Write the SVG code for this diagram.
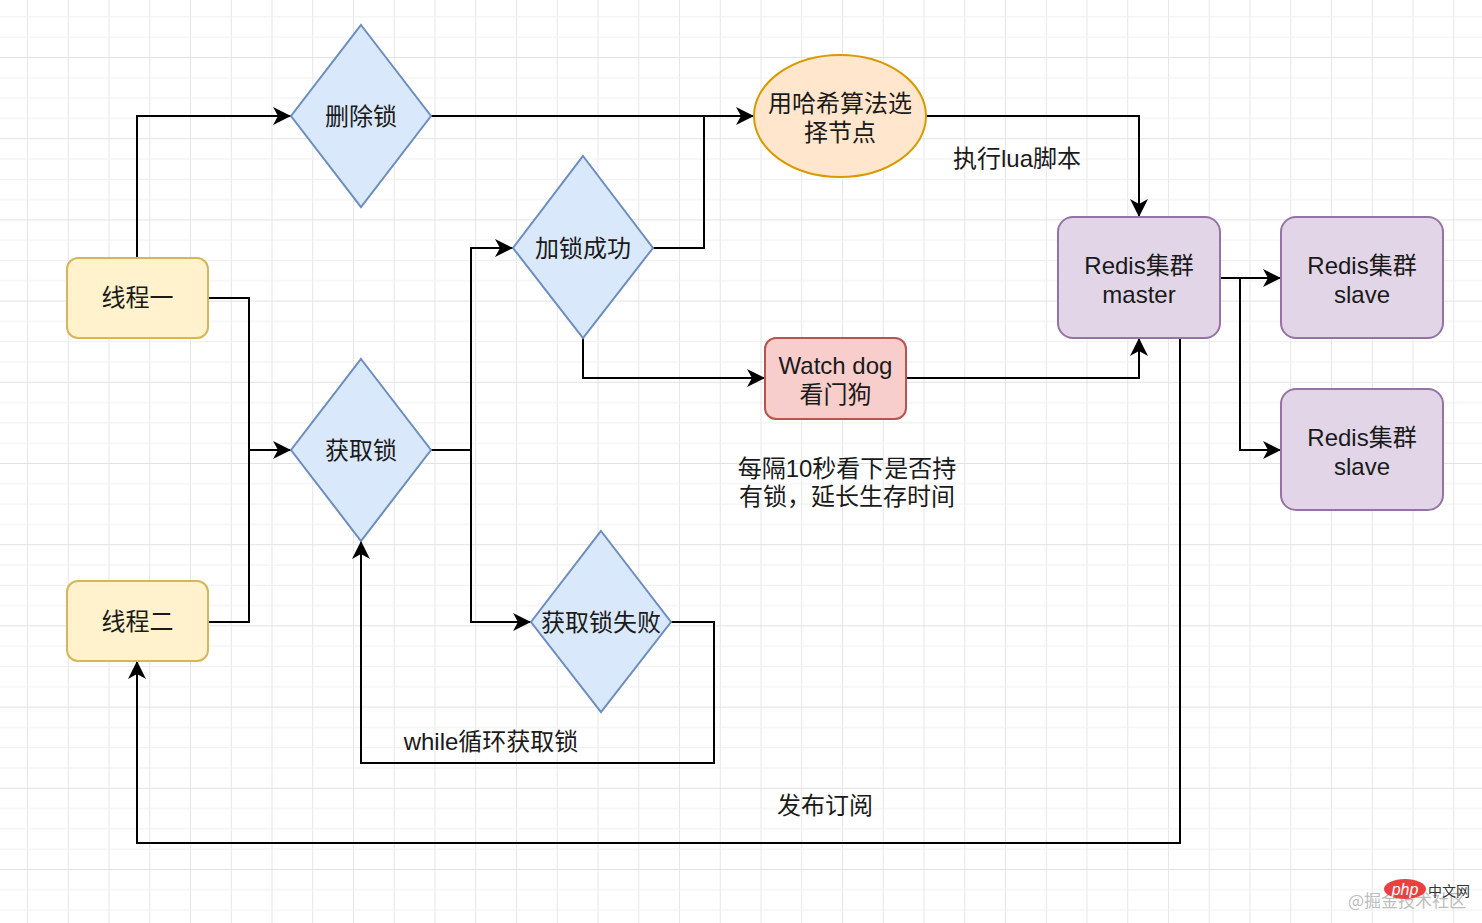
<svg xmlns="http://www.w3.org/2000/svg" width="1482" height="923" viewBox="0 0 1482 923">
<defs>
<pattern id="grid" patternUnits="userSpaceOnUse" x="27" y="-24.2" width="40.75" height="81.2">
<line x1="0.5" y1="0" x2="0.5" y2="81.2" stroke="#e6e6e6" stroke-width="1"/>
<line x1="0" y1="0.5" x2="40.75" y2="0.5" stroke="#e2e2e2" stroke-width="1"/>
<line x1="0" y1="20.8" x2="40.75" y2="20.8" stroke="#efefef" stroke-width="1"/>
<line x1="0" y1="41.1" x2="40.75" y2="41.1" stroke="#efefef" stroke-width="1"/>
<line x1="0" y1="61.4" x2="40.75" y2="61.4" stroke="#efefef" stroke-width="1"/>
</pattern>
<marker id="arr" viewBox="0 0 18 18" refX="18" refY="9" markerWidth="18" markerHeight="18" markerUnits="userSpaceOnUse" orient="auto">
<path d="M0,0 L18,9 L0,18 L5,9 Z" fill="#000"/>
</marker>
</defs>
<style>
.t{font-family:"Liberation Sans","Noto Sans CJK SC",sans-serif;font-size:24px;fill:#1a1a1a;text-anchor:middle}
.yel{fill:#fff2cc;stroke:#d6b656;stroke-width:2}
.blu{fill:#dae8fc;stroke:#6c8ebf;stroke-width:2}
.org{fill:#ffe6cc;stroke:#d79b00;stroke-width:2}
.red{fill:#f8cecc;stroke:#b85450;stroke-width:2}
.pur{fill:#e1d5e7;stroke:#9673a6;stroke-width:2}
.c{fill:none;stroke:#000;stroke-width:2}
.a{marker-end:url(#arr)}
</style>
<rect width="1482" height="923" fill="#ffffff"/>
<rect width="1482" height="923" fill="url(#grid)"/>

<g id="connectors">
<path class="c a" d="M137,258 V116 H291"/>
<path class="c a" d="M208,298 H249 V450 H291"/>
<path class="c" d="M208,622 H249 V450"/>
<path class="c a" d="M431,116 H754"/>
<path class="c" d="M653,248 H704 V116"/>
<path class="c a" d="M431,450 H471 V248 H513"/>
<path class="c a" d="M471,450 V622 H531"/>
<path class="c a" d="M583,338 V378 H765"/>
<path class="c a" d="M906,378 H1139 V338"/>
<path class="c a" d="M926,116 H1139 V217"/>
<path class="c a" d="M1220,278 H1281"/>
<path class="c a" d="M1240,278 V450 H1281"/>
<path class="c a" d="M671,622 H714 V763 H361 V541"/>
<path class="c a" d="M1180,338 V843 H137 V661"/>
</g>

<g id="thread1"><rect class="yel" x="67" y="258" width="141" height="80" rx="11"/><text class="t" x="137.5" y="306">线程一</text></g>
<g id="thread2"><rect class="yel" x="67" y="581" width="141" height="80" rx="11"/><text class="t" x="137.5" y="630">线程二</text></g>
<g id="delLock"><polygon class="blu" points="361,25 431,116 361,207 291,116"/><text class="t" x="361" y="125">删除锁</text></g>
<g id="getLock"><polygon class="blu" points="361,359 431,450 361,541 291,450"/><text class="t" x="361" y="459">获取锁</text></g>
<g id="lockOk"><polygon class="blu" points="583,156 653,248 583,338 513,248"/><text class="t" x="583" y="257">加锁成功</text></g>
<g id="lockFail"><polygon class="blu" points="601,531 671,622 601,712 531,622"/><text class="t" x="601" y="631">获取锁失败</text></g>
<g id="hash"><ellipse class="org" cx="840" cy="116" rx="86" ry="61"/><text class="t" x="840" y="112">用哈希算法选</text><text class="t" x="840" y="141">择节点</text></g>
<g id="watchdog"><rect class="red" x="765" y="338" width="141" height="81" rx="11"/><text class="t" x="835.5" y="374">Watch dog</text><text class="t" x="835.5" y="403">看门狗</text></g>
<g id="master"><rect class="pur" x="1058" y="217" width="162" height="121" rx="15"/><text class="t" x="1139" y="274">Redis集群</text><text class="t" x="1139" y="303">master</text></g>
<g id="slave1"><rect class="pur" x="1281" y="217" width="162" height="121" rx="15"/><text class="t" x="1362" y="274">Redis集群</text><text class="t" x="1362" y="303">slave</text></g>
<g id="slave2"><rect class="pur" x="1281" y="389" width="162" height="121" rx="15"/><text class="t" x="1362" y="446">Redis集群</text><text class="t" x="1362" y="475">slave</text></g>

<g id="labels">
<text class="t" x="1017" y="167">执行lua脚本</text>
<text class="t" x="847" y="477">每隔10秒看下是否持</text>
<text class="t" x="847" y="505">有锁，延长生存时间</text>
<text class="t" x="491" y="750">while循环获取锁</text>
<text class="t" x="825" y="814">发布订阅</text>
</g>

<g id="watermark">
<text x="1348" y="907" font-family="'Noto Sans CJK SC',sans-serif" font-size="17" fill="#bdbdbd">@掘金技术社区</text>
<ellipse cx="1405" cy="889" rx="21" ry="10" fill="#e8413f"/>
<text x="1405" y="895" font-family="'Liberation Sans',sans-serif" font-style="italic" font-size="16" fill="#ffffff" text-anchor="middle">php</text>
<text x="1428" y="896" font-family="'Noto Sans CJK SC',sans-serif" font-size="14" fill="#333333">中文网</text>
</g>
</svg>
